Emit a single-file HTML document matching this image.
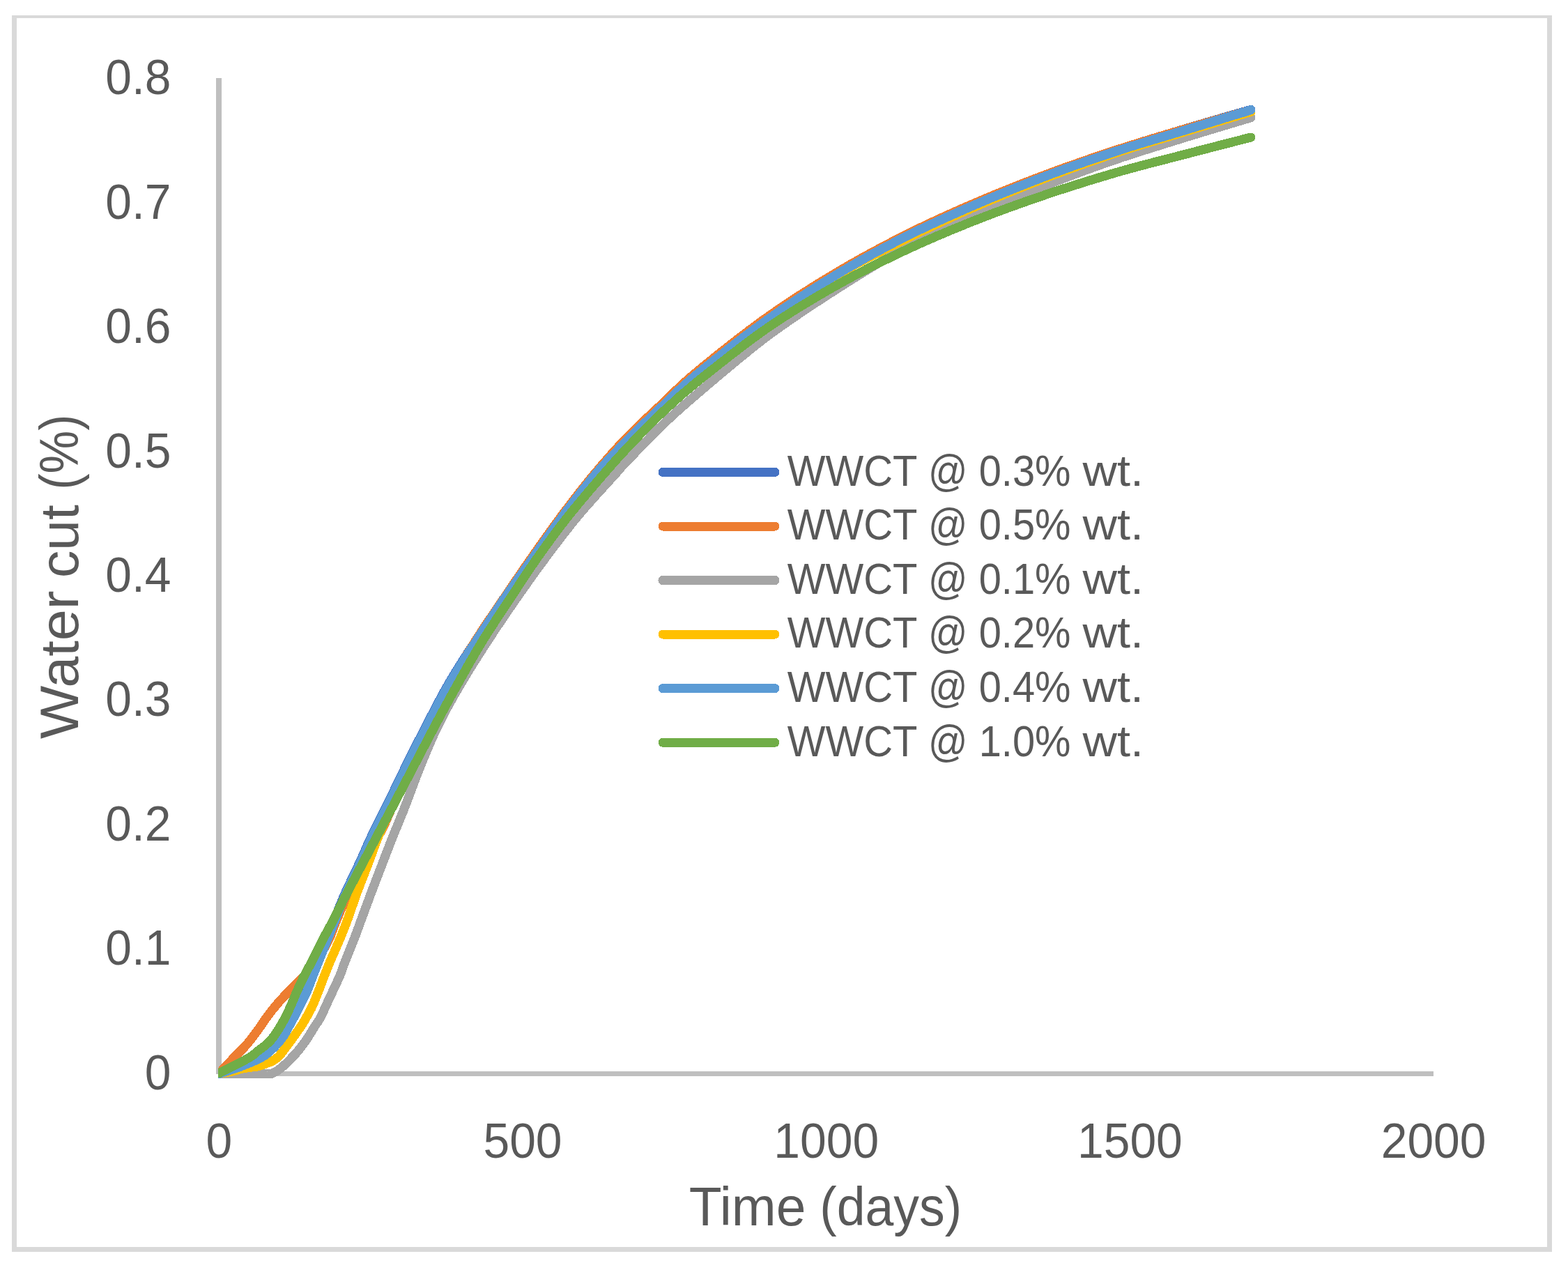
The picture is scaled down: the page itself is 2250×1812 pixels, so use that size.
<!DOCTYPE html><html><head><meta charset="utf-8"><title>Water cut chart</title>
<style>html,body{margin:0;padding:0;background:#fff;}body{width:2250px;height:1812px;overflow:hidden;}svg{display:block;position:absolute;left:0;top:0;}text{font-family:'Liberation Sans', Arial, sans-serif;fill:#595959;}</style></head><body>
<svg width="2250" height="1812" viewBox="0 0 2250 1812">
<rect x="0" y="0" width="2250" height="1812" fill="#fff"/>
<rect x="17" y="22" width="7" height="1774" fill="#D9D9D9"/>
<rect x="17" y="22" width="2210" height="4" fill="#D9D9D9"/>
<rect x="2220" y="22" width="7" height="1774" fill="#D9D9D9"/>
<rect x="17" y="1789" width="2210" height="7" fill="#D9D9D9"/>
<rect x="310" y="112" width="8" height="1429" fill="#BFBFBF"/>
<rect x="314" y="1537" width="1743" height="7" fill="#BFBFBF"/>
<defs><clipPath id="pa"><rect x="313" y="0" width="1800" height="1560"/></clipPath></defs>
<g clip-path="url(#pa)" fill="none" stroke-width="13" stroke-linecap="round" stroke-linejoin="round" shape-rendering="crispEdges">
<path d="M314.0,1540.5 C316.0,1539.5 321.4,1536.8 326.0,1534.5 C330.6,1532.2 336.2,1529.5 341.9,1526.5 C347.6,1523.5 354.1,1520.6 360.3,1516.5 C366.5,1512.4 373.0,1507.9 379.2,1502.0 C385.4,1496.1 392.6,1487.8 397.6,1481.0 C402.6,1474.2 405.8,1467.7 409.3,1461.0 C412.8,1454.3 415.6,1447.7 418.6,1441.0 C421.6,1434.3 424.1,1427.7 427.1,1421.0 C430.1,1414.3 433.1,1407.7 436.5,1401.0 C439.9,1394.3 443.0,1389.3 447.3,1381.0 C451.6,1372.7 456.9,1361.0 462.1,1351.0 C467.3,1341.0 472.8,1332.8 478.4,1321.0 C484.0,1309.2 489.9,1293.5 496.0,1280.0 C502.1,1266.5 508.8,1253.3 515.0,1240.0 C521.2,1226.7 526.7,1213.3 533.0,1200.0 C539.3,1186.7 544.8,1176.7 553.0,1160.0 C561.2,1143.3 572.1,1120.0 582.0,1100.0 C591.9,1080.0 601.9,1060.0 612.3,1040.0 C622.7,1020.0 632.7,1000.0 644.3,980.0 C655.9,960.0 669.0,940.0 682.0,920.0 C695.0,900.0 708.3,880.0 722.0,860.0 C735.7,840.0 749.8,820.0 764.0,800.0 C778.2,780.0 792.0,760.0 807.0,740.0 C822.0,720.0 838.5,698.3 854.0,680.0 C869.5,661.7 884.0,646.4 900.0,630.0 C916.0,613.6 933.3,597.2 950.0,581.5 C966.7,565.8 975.0,556.2 1000.0,535.5 C1025.0,514.8 1066.7,481.3 1100.0,457.5 C1133.3,433.7 1166.7,412.4 1200.0,392.5 C1233.3,372.6 1266.7,354.8 1300.0,338.0 C1333.3,321.2 1366.7,306.0 1400.0,291.5 C1433.3,277.0 1466.7,263.6 1500.0,251.0 C1533.3,238.4 1566.7,226.8 1600.0,215.8 C1633.3,204.8 1667.5,194.8 1700.0,185.0 C1732.5,175.2 1779.2,161.9 1795.0,157.3" stroke="#4472C4"/>
<path d="M314.0,1540.5 C317.2,1537.1 326.8,1526.8 333.2,1520.0 C339.6,1513.2 346.8,1506.7 352.7,1500.0 C358.6,1493.3 363.6,1486.7 368.5,1480.0 C373.4,1473.3 377.5,1466.7 382.4,1460.0 C387.3,1453.3 392.4,1446.7 398.1,1440.0 C403.8,1433.3 410.3,1426.7 416.7,1420.0 C423.1,1413.3 430.6,1406.7 436.7,1400.0 C442.8,1393.3 447.3,1388.3 453.0,1380.0 C458.7,1371.7 466.0,1360.0 471.0,1350.0 C476.0,1340.0 478.1,1331.7 483.0,1320.0 C487.9,1308.3 494.2,1293.3 500.6,1280.0 C507.1,1266.7 514.7,1253.3 521.7,1240.0 C528.7,1226.7 537.6,1210.0 542.8,1200.0 C548.0,1190.0 545.5,1196.7 553.0,1180.0 C560.5,1163.3 577.3,1123.3 588.0,1100.0 C598.7,1076.7 607.2,1060.0 617.0,1040.0 C626.8,1020.0 636.2,1000.0 647.0,980.0 C657.8,960.0 669.5,940.0 682.0,920.0 C694.5,900.0 708.5,880.0 722.0,860.0 C735.5,840.0 749.0,820.0 763.0,800.0 C777.0,780.0 791.0,760.0 806.0,740.0 C821.0,720.0 837.3,698.8 853.0,680.0 C868.7,661.2 883.8,644.1 900.0,627.4 C916.2,610.6 933.3,595.2 950.0,579.5 C966.7,563.8 975.0,554.0 1000.0,533.4 C1025.0,512.8 1066.7,479.4 1100.0,455.7 C1133.3,432.0 1166.7,411.0 1200.0,391.2 C1233.3,371.4 1266.7,353.5 1300.0,336.8 C1333.3,320.1 1366.7,305.1 1400.0,290.8 C1433.3,276.5 1466.7,263.3 1500.0,250.8 C1533.3,238.3 1566.7,226.7 1600.0,215.8 C1633.3,204.9 1667.5,194.8 1700.0,185.2 C1732.5,175.6 1779.2,162.5 1795.0,158.0" stroke="#ED7D31"/>
<path d="M314.0,1540.5 C320.0,1540.5 338.2,1540.5 350.0,1540.5 C361.8,1540.5 378.4,1540.5 385.0,1540.5 C391.6,1540.5 388.2,1540.6 389.8,1540.2 C391.4,1539.8 392.8,1539.2 394.9,1538.0 C397.0,1536.8 399.5,1535.2 402.3,1533.0 C405.1,1530.8 407.7,1528.5 411.5,1524.8 C415.3,1521.0 421.5,1514.8 425.3,1510.5 C429.1,1506.2 431.4,1503.2 434.5,1499.0 C437.6,1494.8 440.8,1490.0 443.7,1485.5 C446.6,1481.0 449.3,1476.2 452.0,1472.0 C454.7,1467.8 456.9,1465.3 459.8,1460.0 C462.7,1454.7 466.0,1446.7 469.1,1440.0 C472.2,1433.3 475.3,1426.7 478.4,1420.0 C481.5,1413.3 484.8,1406.7 487.6,1400.0 C490.4,1393.3 491.8,1388.3 495.0,1380.0 C498.2,1371.7 503.2,1360.0 507.1,1350.0 C511.0,1340.0 513.9,1331.7 518.2,1320.0 C522.5,1308.3 528.0,1293.3 533.0,1280.0 C538.0,1266.7 543.2,1253.3 548.3,1240.0 C553.4,1226.7 558.5,1213.3 563.8,1200.0 C569.1,1186.7 573.6,1176.7 580.1,1160.0 C586.6,1143.3 594.9,1120.0 603.0,1100.0 C611.1,1080.0 619.2,1060.0 629.0,1040.0 C638.8,1020.0 650.1,1000.0 661.9,980.0 C673.6,960.0 686.5,940.0 699.5,920.0 C712.5,900.0 726.1,880.0 740.0,860.0 C753.9,840.0 768.1,820.0 783.0,800.0 C797.9,780.0 812.8,760.1 829.5,740.0 C846.2,719.9 871.8,692.6 883.5,679.5 C895.2,666.4 888.9,672.8 900.0,661.3 C911.1,649.8 933.3,626.3 950.0,610.3 C966.7,594.3 975.0,586.6 1000.0,565.4 C1025.0,544.2 1066.7,508.2 1100.0,483.2 C1133.3,458.2 1166.7,436.6 1200.0,415.2 C1233.3,393.8 1266.7,373.1 1300.0,355.0 C1333.3,336.9 1366.7,321.3 1400.0,306.5 C1433.3,291.7 1466.7,278.9 1500.0,266.0 C1533.3,253.1 1566.7,240.6 1600.0,229.2 C1633.3,217.8 1667.5,207.5 1700.0,197.4 C1732.5,187.3 1779.2,173.5 1795.0,168.7" stroke="#A5A5A5"/>
<path d="M314.0,1540.5 C317.1,1539.9 326.4,1538.4 332.6,1537.1 C338.8,1535.8 344.9,1533.7 351.1,1532.5 C357.3,1531.3 364.7,1531.0 370.0,1529.8 C375.3,1528.6 379.4,1526.7 382.9,1525.4 C386.3,1524.2 387.8,1524.0 390.7,1522.3 C393.6,1520.6 396.9,1518.5 400.0,1515.4 C403.1,1512.4 406.1,1508.0 409.2,1504.0 C412.3,1500.0 415.7,1495.3 418.4,1491.6 C421.1,1487.9 422.6,1485.7 425.3,1481.8 C428.0,1477.9 430.9,1474.4 434.5,1468.4 C438.1,1462.4 443.2,1453.7 447.0,1446.0 C450.8,1438.3 454.0,1429.5 457.0,1422.0 C460.0,1414.5 462.2,1408.0 465.0,1401.0 C467.8,1394.0 469.9,1388.5 473.5,1380.0 C477.1,1371.5 482.3,1360.0 486.5,1350.0 C490.7,1340.0 494.2,1331.7 498.5,1320.0 C502.8,1308.3 507.6,1293.3 512.5,1280.0 C517.4,1266.7 522.9,1253.3 528.0,1240.0 C533.1,1226.7 537.5,1213.3 543.0,1200.0 C548.5,1186.7 552.8,1176.7 561.0,1160.0 C569.2,1143.3 581.8,1120.0 592.0,1100.0 C602.2,1080.0 612.0,1060.0 622.5,1040.0 C633.0,1020.0 643.9,1000.0 655.0,980.0 C666.1,960.0 676.8,940.0 689.0,920.0 C701.2,900.0 714.8,880.0 728.0,860.0 C741.2,840.0 754.0,820.0 768.0,800.0 C782.0,780.0 796.5,760.0 812.0,740.0 C827.5,720.0 846.3,697.0 861.0,680.0 C875.7,663.0 885.2,653.3 900.0,638.0 C914.8,622.7 933.3,603.8 950.0,588.0 C966.7,572.2 975.0,563.3 1000.0,543.0 C1025.0,522.7 1066.7,490.6 1100.0,466.0 C1133.3,441.4 1166.7,416.1 1200.0,395.5 C1233.3,374.9 1266.7,359.2 1300.0,342.6 C1333.3,326.1 1366.7,310.7 1400.0,296.2 C1433.3,281.7 1466.7,268.1 1500.0,255.4 C1533.3,242.7 1566.7,230.8 1600.0,219.7 C1633.3,208.6 1667.5,198.9 1700.0,189.0 C1732.5,179.1 1779.2,165.1 1795.0,160.3" stroke="#FFC000"/>
<path d="M314.0,1540.5 C318.6,1539.0 334.2,1534.2 341.9,1531.4 C349.6,1528.7 355.6,1526.0 360.3,1524.0 C365.0,1522.0 366.9,1521.2 370.0,1519.7 C373.1,1518.2 376.1,1516.8 379.2,1514.7 C382.3,1512.6 385.3,1510.1 388.4,1507.3 C391.5,1504.5 394.5,1501.6 397.6,1498.1 C400.7,1494.6 404.0,1490.6 406.9,1486.3 C409.8,1482.0 412.6,1476.4 415.0,1472.0 C417.4,1467.6 418.7,1465.3 421.5,1460.0 C424.3,1454.7 428.6,1446.7 431.9,1440.0 C435.2,1433.3 438.6,1426.7 441.5,1420.0 C444.4,1413.3 446.4,1406.7 449.0,1400.0 C451.6,1393.3 453.7,1388.3 457.0,1380.0 C460.3,1371.7 465.0,1360.0 469.0,1350.0 C473.0,1340.0 476.3,1331.7 481.0,1320.0 C485.7,1308.3 491.2,1293.3 497.0,1280.0 C502.8,1266.7 509.8,1253.3 516.0,1240.0 C522.2,1226.7 527.7,1213.3 534.0,1200.0 C540.3,1186.7 545.8,1176.7 554.0,1160.0 C562.2,1143.3 573.1,1120.0 583.0,1100.0 C592.9,1080.0 602.9,1060.0 613.3,1040.0 C623.7,1020.0 633.7,1000.0 645.3,980.0 C656.9,960.0 670.0,940.0 683.0,920.0 C696.0,900.0 709.3,880.0 723.0,860.0 C736.7,840.0 750.8,820.0 765.0,800.0 C779.2,780.0 793.0,760.0 808.0,740.0 C823.0,720.0 839.7,698.0 855.0,680.0 C870.3,662.0 884.2,648.0 900.0,631.9 C915.8,615.8 933.3,599.0 950.0,583.2 C966.7,567.4 975.0,557.8 1000.0,537.2 C1025.0,516.6 1066.7,483.4 1100.0,459.6 C1133.3,435.8 1166.7,414.4 1200.0,394.3 C1233.3,374.2 1266.7,356.1 1300.0,339.3 C1333.3,322.5 1366.7,307.8 1400.0,293.4 C1433.3,279.0 1466.7,265.6 1500.0,252.9 C1533.3,240.2 1566.7,228.5 1600.0,217.5 C1633.3,206.5 1667.5,196.8 1700.0,186.9 C1732.5,177.0 1779.2,162.7 1795.0,157.8" stroke="#5B9BD5"/>
<path d="M314.0,1540.0 C316.0,1539.0 321.4,1536.1 326.0,1533.8 C330.6,1531.5 336.2,1528.9 341.9,1525.9 C347.6,1522.9 355.6,1518.8 360.3,1515.8 C365.0,1512.8 366.9,1510.3 370.0,1507.8 C373.1,1505.3 376.1,1503.5 379.2,1501.0 C382.3,1498.5 385.3,1496.1 388.4,1492.6 C391.5,1489.1 394.1,1485.4 397.6,1480.0 C401.1,1474.6 405.8,1466.7 409.3,1460.0 C412.8,1453.3 415.6,1446.7 418.6,1440.0 C421.6,1433.3 424.1,1426.7 427.1,1420.0 C430.1,1413.3 433.1,1406.7 436.5,1400.0 C439.9,1393.3 443.0,1388.3 447.3,1380.0 C451.6,1371.7 456.9,1360.0 462.1,1350.0 C467.3,1340.0 472.3,1331.7 478.4,1320.0 C484.5,1308.3 491.7,1293.3 498.6,1280.0 C505.5,1266.7 512.7,1253.3 519.7,1240.0 C526.7,1226.7 533.8,1213.3 540.8,1200.0 C547.8,1186.7 553.2,1176.7 562.0,1160.0 C570.8,1143.3 582.9,1120.0 593.4,1100.0 C603.9,1080.0 614.1,1060.0 624.8,1040.0 C635.5,1020.0 646.3,1000.0 657.5,980.0 C668.7,960.0 679.8,940.0 692.1,920.0 C704.4,900.0 718.0,880.0 731.2,860.0 C744.4,840.0 757.2,820.0 771.3,800.0 C785.4,780.0 800.0,760.0 815.9,740.0 C831.8,720.0 852.4,696.2 866.4,680.0 C880.4,663.8 886.1,657.3 900.0,642.6 C913.9,627.9 933.3,607.8 950.0,592.0 C966.7,576.2 975.0,568.1 1000.0,548.0 C1025.0,527.9 1066.7,494.4 1100.0,471.3 C1133.3,448.2 1166.7,428.4 1200.0,409.6 C1233.3,390.8 1266.7,374.2 1300.0,358.6 C1333.3,343.0 1366.7,329.1 1400.0,315.9 C1433.3,302.7 1466.7,290.8 1500.0,279.5 C1533.3,268.2 1566.7,257.7 1600.0,248.0 C1633.3,238.3 1667.5,230.0 1700.0,221.5 C1732.5,213.0 1779.2,201.1 1795.0,197.0" stroke="#70AD47"/>
</g>
<text transform="translate(245.5,135.3) scale(0.966,1)" font-size="70.2" text-anchor="end">0.8</text>
<text transform="translate(245.5,313.7) scale(0.966,1)" font-size="70.2" text-anchor="end">0.7</text>
<text transform="translate(245.5,492.1) scale(0.966,1)" font-size="70.2" text-anchor="end">0.6</text>
<text transform="translate(245.5,670.5) scale(0.966,1)" font-size="70.2" text-anchor="end">0.5</text>
<text transform="translate(245.5,848.9) scale(0.966,1)" font-size="70.2" text-anchor="end">0.4</text>
<text transform="translate(245.5,1027.3) scale(0.966,1)" font-size="70.2" text-anchor="end">0.3</text>
<text transform="translate(245.5,1205.7) scale(0.966,1)" font-size="70.2" text-anchor="end">0.2</text>
<text transform="translate(245.5,1384.1) scale(0.966,1)" font-size="70.2" text-anchor="end">0.1</text>
<text transform="translate(245.5,1562.5) scale(0.966,1)" font-size="70.2" text-anchor="end">0</text>
<text transform="translate(314.3,1660.7) scale(0.966,1)" font-size="70.2" text-anchor="middle">0</text>
<text transform="translate(750.0,1660.7) scale(0.966,1)" font-size="70.2" text-anchor="middle">500</text>
<text transform="translate(1185.7,1660.7) scale(0.966,1)" font-size="70.2" text-anchor="middle">1000</text>
<text transform="translate(1621.4,1660.7) scale(0.966,1)" font-size="70.2" text-anchor="middle">1500</text>
<text transform="translate(2057.1,1660.7) scale(0.966,1)" font-size="70.2" text-anchor="middle">2000</text>
<text transform="translate(988.7,1757.9) scale(0.990,1)" font-size="77.5" text-anchor="start">Time</text>
<text transform="translate(1176.3,1757.9) scale(0.947,1)" font-size="77.5" text-anchor="start">(days)</text>
<text transform="translate(111.8,1060.0) rotate(-90) scale(1.044,1)" font-size="77.5" text-anchor="start">Water</text>
<text transform="translate(111.8,829.1) rotate(-90) scale(1.016,1)" font-size="77.5" text-anchor="start">cut</text>
<text transform="translate(111.8,702.5) rotate(-90) scale(0.895,1)" font-size="77.5" text-anchor="start">(%)</text>
<line x1="951" y1="677.4" x2="1112" y2="677.4" stroke="#4472C4" stroke-width="13" stroke-linecap="round" shape-rendering="crispEdges"/>
<text transform="translate(1129.8,696.7) scale(0.932,1)" font-size="62.2" text-anchor="start">WWCT</text>
<text transform="translate(1331.9,696.7) scale(0.895,1)" font-size="62.2" text-anchor="start">@</text>
<text transform="translate(1404.7,696.7) scale(0.930,1)" font-size="62.2" text-anchor="start">0.3%</text>
<text transform="translate(1553.4,696.7) scale(1.102,1)" font-size="62.2" text-anchor="start">wt.</text>
<line x1="951" y1="755.0" x2="1112" y2="755.0" stroke="#ED7D31" stroke-width="13" stroke-linecap="round" shape-rendering="crispEdges"/>
<text transform="translate(1129.8,774.3) scale(0.932,1)" font-size="62.2" text-anchor="start">WWCT</text>
<text transform="translate(1331.9,774.3) scale(0.895,1)" font-size="62.2" text-anchor="start">@</text>
<text transform="translate(1404.7,774.3) scale(0.930,1)" font-size="62.2" text-anchor="start">0.5%</text>
<text transform="translate(1553.4,774.3) scale(1.102,1)" font-size="62.2" text-anchor="start">wt.</text>
<line x1="951" y1="832.5" x2="1112" y2="832.5" stroke="#A5A5A5" stroke-width="13" stroke-linecap="round" shape-rendering="crispEdges"/>
<text transform="translate(1129.8,851.8) scale(0.932,1)" font-size="62.2" text-anchor="start">WWCT</text>
<text transform="translate(1331.9,851.8) scale(0.895,1)" font-size="62.2" text-anchor="start">@</text>
<text transform="translate(1404.7,851.8) scale(0.930,1)" font-size="62.2" text-anchor="start">0.1%</text>
<text transform="translate(1553.4,851.8) scale(1.102,1)" font-size="62.2" text-anchor="start">wt.</text>
<line x1="951" y1="910.1" x2="1112" y2="910.1" stroke="#FFC000" stroke-width="13" stroke-linecap="round" shape-rendering="crispEdges"/>
<text transform="translate(1129.8,929.4) scale(0.932,1)" font-size="62.2" text-anchor="start">WWCT</text>
<text transform="translate(1331.9,929.4) scale(0.895,1)" font-size="62.2" text-anchor="start">@</text>
<text transform="translate(1404.7,929.4) scale(0.930,1)" font-size="62.2" text-anchor="start">0.2%</text>
<text transform="translate(1553.4,929.4) scale(1.102,1)" font-size="62.2" text-anchor="start">wt.</text>
<line x1="951" y1="987.6" x2="1112" y2="987.6" stroke="#5B9BD5" stroke-width="13" stroke-linecap="round" shape-rendering="crispEdges"/>
<text transform="translate(1129.8,1006.9) scale(0.932,1)" font-size="62.2" text-anchor="start">WWCT</text>
<text transform="translate(1331.9,1006.9) scale(0.895,1)" font-size="62.2" text-anchor="start">@</text>
<text transform="translate(1404.7,1006.9) scale(0.930,1)" font-size="62.2" text-anchor="start">0.4%</text>
<text transform="translate(1553.4,1006.9) scale(1.102,1)" font-size="62.2" text-anchor="start">wt.</text>
<line x1="951" y1="1065.2" x2="1112" y2="1065.2" stroke="#70AD47" stroke-width="13" stroke-linecap="round" shape-rendering="crispEdges"/>
<text transform="translate(1129.8,1084.5) scale(0.932,1)" font-size="62.2" text-anchor="start">WWCT</text>
<text transform="translate(1331.9,1084.5) scale(0.895,1)" font-size="62.2" text-anchor="start">@</text>
<text transform="translate(1404.7,1084.5) scale(0.930,1)" font-size="62.2" text-anchor="start">1.0%</text>
<text transform="translate(1553.4,1084.5) scale(1.102,1)" font-size="62.2" text-anchor="start">wt.</text>
</svg></body></html>
